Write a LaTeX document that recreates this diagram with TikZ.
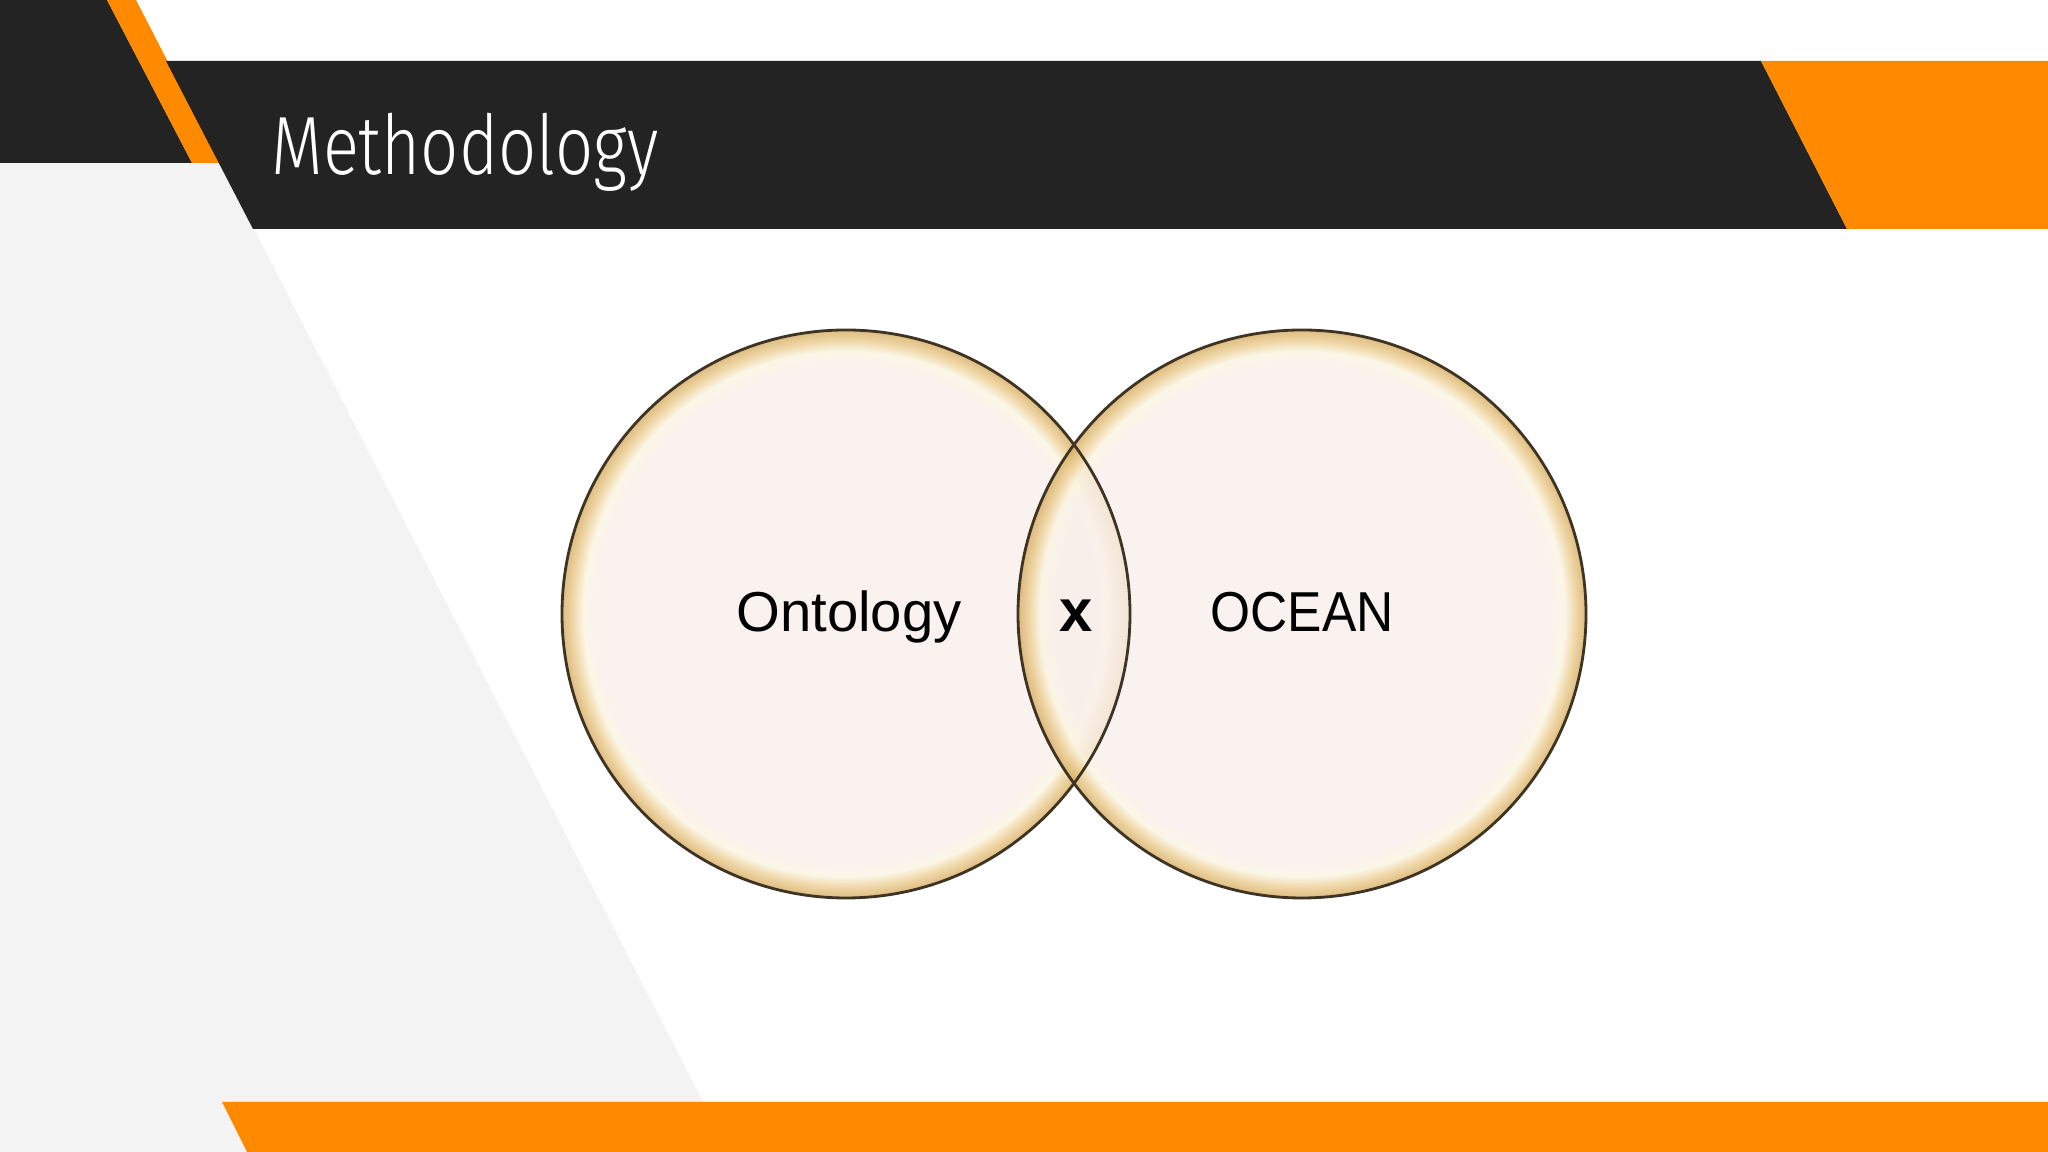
\documentclass[tikz,border=0pt]{standalone}
\usepackage{fontspec}
\setmainfont{Liberation Sans}
\newfontfamily\titlefont{Fira Sans Light}
\usetikzlibrary{calc}

\definecolor{slatedark}{HTML}{222322}
\definecolor{flame}{HTML}{FF8A00}
\definecolor{paper}{HTML}{F3F3F3}
\definecolor{cream}{HTML}{F9EFEA}
\definecolor{rimhi}{HTML}{FBF5E2}
\definecolor{rimgold}{HTML}{EDCF95}
\definecolor{rimdeep}{HTML}{D9B066}
\definecolor{rimline}{HTML}{3E3424}

% radius of the bubble is 25bp of the shading
\pgfdeclareradialshading{glassy}{\pgfpoint{0bp}{0bp}}{%
  color(0bp)=(cream); color(21.8bp)=(cream); color(23.1bp)=(rimhi);
  color(24bp)=(rimgold); color(24.85bp)=(rimdeep); color(25bp)=(rimdeep);
  color(50bp)=(rimdeep)}

\begin{document}
\begin{tikzpicture}[x=0.01cm, y=0.01cm,
  lbl/.style={font=\fontsize{16pt}{19pt}\selectfont, text=black, inner sep=0pt},
  bubble/.style={circle, inner sep=0pt, minimum size=5.68cm, shading=glassy, fill opacity=0.8}]

\useasboundingbox (0,0) rectangle (2048,1152);
\fill[white] (0,0) rectangle (2048,1152);

% background bands
\fill[paper] (0,989) -- (220,989) -- (729,0) -- (0,0) -- cycle;
\fill[slatedark] (0,1152) -- (107,1152) -- (192,989) -- (0,989) -- cycle;
\fill[flame] (107,1152) -- (136,1152) -- (220,989) -- (192,989) -- cycle;
\fill[slatedark] (166,1091) -- (1761,1091) -- (1847,923) -- (253,923) -- cycle;
\fill[flame] (1761,1091) -- (2048,1091) -- (2048,923) -- (1847,923) -- cycle;
\fill[flame] (222,50) -- (2048,50) -- (2048,0) -- (247,0) -- cycle;

\node[anchor=base west, inner sep=0pt, text=white, xscale=0.81,
  font=\titlefont\fontsize{23.5pt}{28pt}\selectfont] (title) at (271,977) {Methodology};

% venn
\node[bubble] (ont) at (846,538) {};
\node[bubble] (ocean) at (1302,538) {};
\draw[rimline, line width=0.8pt] (ont.center) circle[radius=284];
\draw[rimline, line width=0.8pt] (ocean.center) circle[radius=284];

\node[lbl, anchor=base] (ontlbl) at ($(ont.center)+(3,-18)$) {Ontology};
\node[lbl, anchor=base, xscale=0.915] (oceanlbl) at ($(ocean.center)+(0,-18)$) {OCEAN};
\node[lbl, anchor=base, font=\fontsize{17pt}{20pt}\selectfont\bfseries] (cross) at ($(ont.center)!.5!(ocean.center)+(2,-18)$) {x};

\end{tikzpicture}
\end{document}
